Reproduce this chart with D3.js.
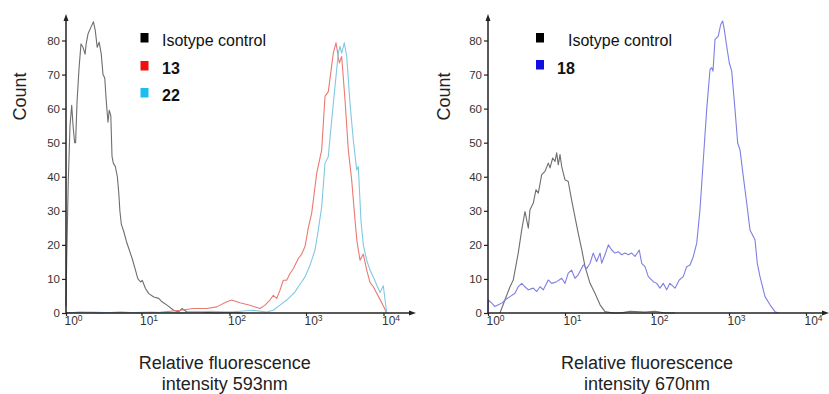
<!DOCTYPE html>
<html><head><meta charset="utf-8">
<script src="https://cdn.jsdelivr.net/npm/d3@7"></script>
<style>body{margin:0;background:#fff} svg{display:block;font-family:"Liberation Sans",Arial,sans-serif}</style>
</head><body><svg id="c" width="829" height="394"></svg>
<script>
// ---------- data ----------
const decades = [1, 10, 100, 1000, 10000];
const decadeExponents = ["0", "1", "2", "3", "4"];
const countTicks = [0, 10, 20, 30, 40, 50, 60, 70, 80];
const yTitle = "Count";
const titleA = ["Relative fluorescence", "intensity 593nm"];
const titleB = ["Relative fluorescence", "intensity 670nm"];
const legendA = ["Isotype control", "13", "22"];
const legendB = ["Isotype control", "18"];

// [intensity, count]
const isoA = [[1.00,2],[1.02,15],[1.07,38],[1.13,55],[1.19,61],[1.24,55],[1.30,50],[1.34,50],[1.40,62],[1.49,72],[1.58,79],[1.68,78],[1.79,76],[1.85,79],[1.96,82],[2.15,84],[2.31,85.5],[2.44,83],[2.59,78],[2.75,79.5],[2.93,76],[3.09,70],[3.26,69],[3.42,62],[3.60,56],[3.74,59.5],[3.92,58],[4.07,46],[4.23,44],[4.50,43],[4.79,40],[5.01,35],[5.17,30],[5.41,26],[5.81,24],[6.31,21],[6.77,19],[7.52,16],[8.32,12.6],[8.93,10.1],[9.70,9.1],[10.2,9.6],[11.1,7.2],[12.1,5.7],[13.8,4.7],[15.7,4.3],[17.1,3.3],[19.5,2.3],[23.2,0.8],[26.4,0.3],[28.8,1.3],[32.9,0.3],[46,0.3],[70,0],[100,0.2],[150,0]];
const s13 = [[1.0,0],[1.54,0.3],[2.84,0],[5.25,0.3],[9.7,0],[16.4,0.2],[27.6,0.8],[39,1.3],[55.3,1.3],[71.7,1.8],[93,3.3],[107,3.8],[137,3],[185,2.3],[250,1.3],[291,2.3],[338,3.8],[374,5.2],[414,4.3],[457,6.7],[505,9.6],[559,9.6],[618,11.6],[682,13],[793,16],[878,17.3],[970,19.5],[1071,25],[1184,29.3],[1374,41],[1594,47.9],[1759,63.6],[1940,65],[2251,76.3],[2439,79.3],[2690,73.4],[2888,75.3],[3186,62.6],[3513,47.9],[3887,39],[4289,27.3],[4551,21],[4976,15.5],[5488,17.3],[6071,12.6],[6696,9],[7386,7.7],[9013,4],[10000,2],[11000,0]];
const s22 = [[1.0,0],[2.09,0.3],[5.25,0],[12.6,0.3],[27.6,0],[60.2,0.5],[101.5,0.3],[203,0.8],[306,0.3],[374,0.8],[457,2.3],[559,3.8],[649,5.2],[718,6.2],[793,7.7],[878,9.1],[970,10.6],[1126,14],[1307,18.5],[1441,24.4],[1594,31.2],[1759,44],[1940,45.9],[2146,56.7],[2367,66.5],[2611,76.3],[2746,78.3],[2888,76.3],[3120,79.3],[3352,75.3],[3696,61.6],[4076,50.8],[4511,42],[4729,43],[5125,27],[5488,20],[6071,15.5],[6696,12.6],[7386,10.6],[8244,8],[9013,6],[9940,8],[11000,0]];
const isoB = [[1.43,0],[1.93,7.7],[2.13,9.7],[2.47,17.6],[2.74,24.4],[3.02,29.8],[3.34,24.9],[3.51,30.3],[3.88,32.3],[4.20,36.2],[4.50,35.2],[4.98,40.6],[5.50,41.6],[6.07,44],[6.39,42.6],[6.92,45.5],[7.42,44.5],[7.80,47],[8.18,43.5],[8.61,46.5],[9.06,43],[10.0,39.1],[10.9,38.6],[11.9,33.2],[13.0,28.3],[14.2,23.4],[15.6,18.5],[17.0,13.6],[19.4,8.7],[22.1,5.8],[25.3,2.4],[28.8,0.4],[35.9,0],[42.9,0],[55.9,0.5],[83,0.3],[109,0.5],[147,0],[199,0]];
const s18 = [[1.0,0],[1.01,3.8],[1.12,2.9],[1.23,1.9],[1.36,2.4],[1.51,2.9],[1.66,3.8],[1.93,4.8],[2.24,5.8],[2.47,7.7],[2.74,8.7],[3.02,7.7],[3.34,6.8],[3.88,7.3],[4.29,6.3],[4.74,7.7],[5.23,6.8],[6.07,9.7],[6.72,8.7],[7.80,9.2],[9.06,10.2],[10.0,8.7],[10.9,11.7],[11.9,12.6],[13.0,10.2],[14.2,11.2],[16.2,14.1],[17.8,13.1],[19.4,14.6],[21.1,17.6],[23.1,15.1],[25.3,17.6],[26.4,14.6],[28.8,17.1],[31.5,20],[34.4,18.5],[37.6,17.6],[41.0,18],[44.8,17.1],[49.0,17.6],[53.4,17.1],[58.4,17.6],[63.8,16.6],[71.4,18.5],[76.1,14.6],[83.1,13.6],[90.7,10.7],[104,9.2],[115,8.7],[127,7.3],[140,8.7],[155,6.8],[171,8.7],[199,7.3],[226,9.7],[255,10.7],[282,13.6],[312,14.1],[344,16.6],[381,20.5],[420,30.3],[464,45],[513,59.7],[567,71.5],[596,72],[620,71],[658,80.3],[726,81.3],[780,84.7],[828,85.7],[869,83.2],[934,78.3],[1009,73.4],[1084,71],[1197,59.7],[1297,49.9],[1390,47.9],[1533,40.1],[1698,32.3],[1874,24.4],[2176,21.5],[2331,14.6],[2527,10.7],[2935,4.8],[3409,2.4],[3958,0.4],[4369,0]];

// ---------- drawing ----------
const svg = d3.select("#c");

function panel(cfg) {
  const g = svg.append("g");
  const x = d3.scaleLog().domain(decades).range(cfg.xRange);
  const y = d3.scaleLinear().domain([0, 80]).range([313, 40.5]);
  const x0 = cfg.xRange[0], y0 = y(0);

  // series
  const line = d3.line().x(d => x(d[0])).y(d => y(d[1]));
  cfg.series.forEach(s => {
    g.append("path").attr("d", line(s.data)).attr("fill", "none")
      .attr("stroke", s.color).attr("stroke-width", 1.1).attr("stroke-linejoin", "round");
  });

  // y axis
  const ya = g.append("g").attr("transform", `translate(${x0},0)`)
    .call(d3.axisLeft(y).tickValues(countTicks).tickSize(4).tickPadding(2));
  ya.select(".domain").remove();
  ya.selectAll("line").attr("stroke", "#222").attr("stroke-width", 1.2);
  ya.selectAll("text").attr("fill", "#333").style("font-size", "11.5px")
    .style("font-family", '"Liberation Sans", Arial, sans-serif');
  g.append("line").attr("x1", x0).attr("x2", x0).attr("y1", y0 + 1).attr("y2", 19)
    .attr("stroke", "#222").attr("stroke-width", 1.5);
  g.append("path").attr("d", `M${x0},14 L${x0 - 2.5},21 L${x0 + 2.5},21 Z`).attr("fill", "#222");

  // x axis
  const xa = g.append("g").attr("transform", `translate(0,${y0})`)
    .call(d3.axisBottom(x).tickValues(decades).tickSize(3).tickFormat(""));
  xa.select(".domain").remove();
  xa.selectAll("line").attr("stroke", "#222").attr("stroke-width", 1.2);
  g.append("line").attr("x1", x0).attr("x2", cfg.xEnd - 4).attr("y1", y0).attr("y2", y0)
    .attr("stroke", "#222").attr("stroke-width", 1.5);
  g.append("path").attr("d", `M${cfg.xEnd},${y0} L${cfg.xEnd - 7},${y0 - 2.5} L${cfg.xEnd - 7},${y0 + 2.5} Z`).attr("fill", "#222");

  decades.forEach((d, i) => {
    const t = g.append("text").attr("x", x(d) - 1.5).attr("y", y0 + 12)
      .attr("fill", "#333").style("font-size", "12px");
    t.append("tspan").text("10");
    t.append("tspan").attr("dy", -4.5).style("font-size", "8.5px").text(decadeExponents[i]);
  });

  // titles
  const cx = (cfg.xRange[0] + cfg.xRange[4]) / 2;
  g.append("text").attr("x", cx).attr("y", 369).attr("text-anchor", "middle")
    .attr("fill", "#222").style("font-size", "18px").text(cfg.title[0]);
  g.append("text").attr("x", cx).attr("y", 390).attr("text-anchor", "middle")
    .attr("fill", "#222").style("font-size", "18px").text(cfg.title[1]);
  g.append("text").attr("transform", `translate(${cfg.countX},96.5) rotate(-90)`)
    .attr("text-anchor", "middle").attr("fill", "#222").style("font-size", "18px").text(yTitle);

  // legend
  cfg.legend.forEach((L, i) => {
    g.append("rect").attr("x", cfg.legX).attr("y", L.top).attr("width", 8).attr("height", 9.5)
      .attr("fill", L.color);
    g.append("text").attr("x", L.tx).attr("y", L.base).attr("fill", "#111")
      .style("font-size", "16px").style("font-weight", i === 0 ? "normal" : "bold").text(L.label);
  });
}

panel({
  xRange: [66, 141.5, 229.5, 306, 383.5], xEnd: 416, countX: 25.5, title: titleA,
  series: [
    { data: isoA, color: "#6e6e6e" },
    { data: s13, color: "#ea7a72" },
    { data: s22, color: "#80c8e2" }
  ],
  legX: 140.5,
  legend: [
    { label: legendA[0], color: "#000", top: 33, base: 46, tx: 162 },
    { label: legendA[1], color: "#ee1111", top: 61, base: 73.5, tx: 162 },
    { label: legendA[2], color: "#19bdf0", top: 88, base: 101, tx: 162 }
  ]
});

panel({
  xRange: [488, 565, 652, 729, 806], xEnd: 829, countX: 450, title: titleB,
  series: [
    { data: isoB, color: "#6e6e6e" },
    { data: s18, color: "#7f7fe2" }
  ],
  legX: 536,
  legend: [
    { label: legendB[0], color: "#000", top: 33, base: 46, tx: 568 },
    { label: legendB[1], color: "#1010e0", top: 60, base: 73.5, tx: 557 }
  ]
});
</script></body></html>
